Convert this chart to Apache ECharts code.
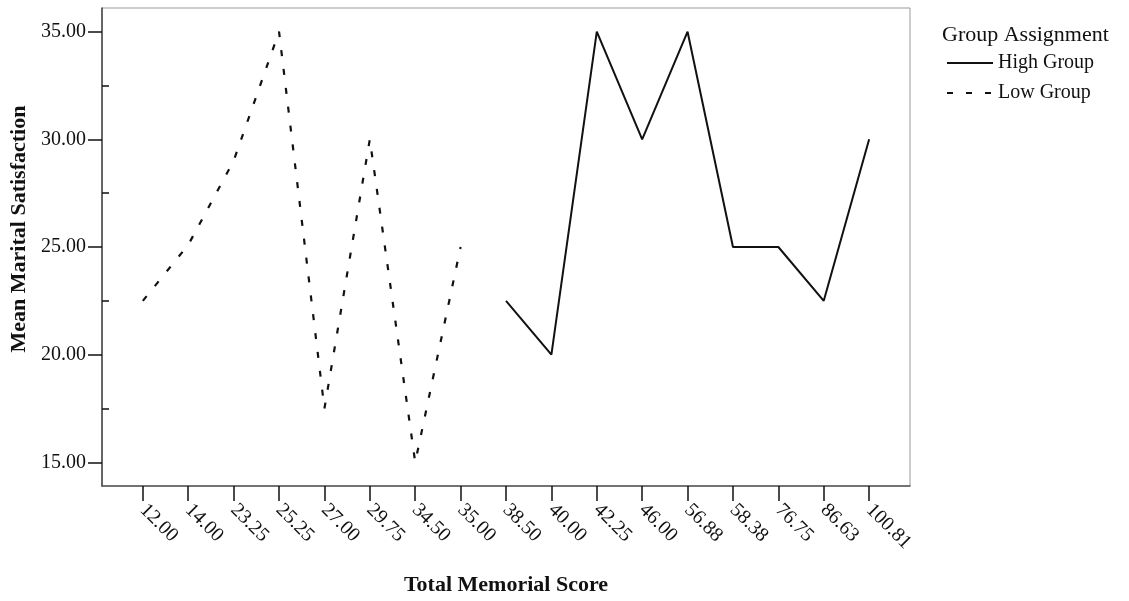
<!DOCTYPE html>
<html>
<head>
<meta charset="utf-8">
<script src="https://cdn.jsdelivr.net/npm/echarts@6/dist/echarts.min.js"></script>
<style>
  html, body { margin: 0; padding: 0; background: #fff; }
  #chart { width: 1129px; height: 601px; }
</style>
</head>
<body>
<div id="chart"></div>
<script>
// ---- data ----
const categories = ['12.00', '14.00', '23.25', '25.25', '27.00', '29.75', '34.50', '35.00',
                    '38.50', '40.00', '42.25', '46.00', '56.88', '58.38', '76.75', '86.63', '100.81'];
// Low Group: values for categories 12.00 .. 35.00
const lowGroup = [22.5, 25.1, 29.0, 35.0, 17.5, 30.0, 15.0, 25.0];
// High Group: values for categories 38.50 .. 100.81
const highGroup = [22.5, 20.0, 35.0, 30.0, 35.0, 25.0, 25.0, 22.5, 30.0];
const yTickValues = [15, 20, 25, 30, 35];
const yMinorValues = [17.5, 22.5, 27.5, 32.5];
const lowStart = 0;
const highStart = lowGroup.length;

const FONT = "'Liberation Serif', 'Times New Roman', serif";
const catIdx = categories.map((c, i) => i);

const chart = echarts.init(document.getElementById('chart'), null, { renderer: 'canvas' });
chart.setOption({
  backgroundColor: '#ffffff',
  animation: false,
  textStyle: { fontFamily: FONT, color: '#111' },
  title: {
    text: 'Group Assignment',
    left: 937, top: 19,
    textStyle: { fontFamily: FONT, fontSize: 22, fontWeight: 'normal', color: '#111' }
  },
  legend: {
    orient: 'vertical',
    left: 941, top: 48,
    itemWidth: 46, itemHeight: 20, itemGap: 10,
    data: ['High Group', 'Low Group'],
    itemStyle: { opacity: 0 },
    textStyle: { fontFamily: FONT, fontSize: 20, color: '#111' },
    selectedMode: false
  },
  grid: {
    left: 102, right: 219, top: 8, bottom: 115,
    show: true, borderColor: '#999', borderWidth: 1, backgroundColor: 'transparent',
    containLabel: false
  },
  xAxis: {
    type: 'value',
    min: -0.9, max: 16.9,
    name: 'Total Memorial Score',
    nameLocation: 'middle',
    nameGap: 88,
    nameTextStyle: { fontFamily: FONT, fontSize: 22, fontWeight: 'bold', color: '#111' },
    axisLine: { show: true, onZero: false, lineStyle: { color: '#555', width: 1.5 } },
    axisTick: { show: true, length: 15, customValues: catIdx, lineStyle: { color: '#111', width: 1.5 } },
    axisLabel: {
      show: true, customValues: catIdx, rotate: -45, margin: 21,
      fontFamily: FONT, fontSize: 20, color: '#111',
      formatter: v => categories[Math.round(v)]
    },
    splitLine: { show: false }
  },
  yAxis: [{
    type: 'value',
    min: 13.9, max: 36.1,
    name: 'Mean Marital Satisfaction',
    nameLocation: 'middle',
    nameGap: 70,
    nameTextStyle: { fontFamily: FONT, fontSize: 22, fontWeight: 'bold', color: '#111', padding: [0, 0, 0, 36] },
    axisLine: { show: true, onZero: false, lineStyle: { color: '#444', width: 1.5 } },
    axisTick: { show: true, length: 14, customValues: yTickValues, lineStyle: { color: '#111', width: 1.5 } },
    axisLabel: {
      show: true, customValues: yTickValues, margin: 16,
      fontFamily: FONT, fontSize: 20, color: '#111',
      formatter: v => v.toFixed(2)
    },
    splitLine: { show: false }
  }, {
    type: 'value',
    min: 13.9, max: 36.1,
    position: 'left',
    axisLine: { show: false, onZero: false },
    axisTick: { show: true, inside: true, length: 7, customValues: yMinorValues, lineStyle: { color: '#111', width: 1.5 } },
    axisLabel: { show: false },
    splitLine: { show: false }
  }],
  series: [{
    name: 'High Group',
    type: 'line',
    symbol: 'none',
    data: highGroup.map((v, i) => [highStart + i, v]),
    lineStyle: { color: '#111', width: 2, type: 'solid' },
    itemStyle: { color: '#111' }
  }, {
    name: 'Low Group',
    type: 'line',
    symbol: 'none',
    data: lowGroup.map((v, i) => [lowStart + i, v]),
    lineStyle: { color: '#111', width: 2.2, type: [6, 13] },
    itemStyle: { color: '#111' }
  }]
});
</script>
</body>
</html>
